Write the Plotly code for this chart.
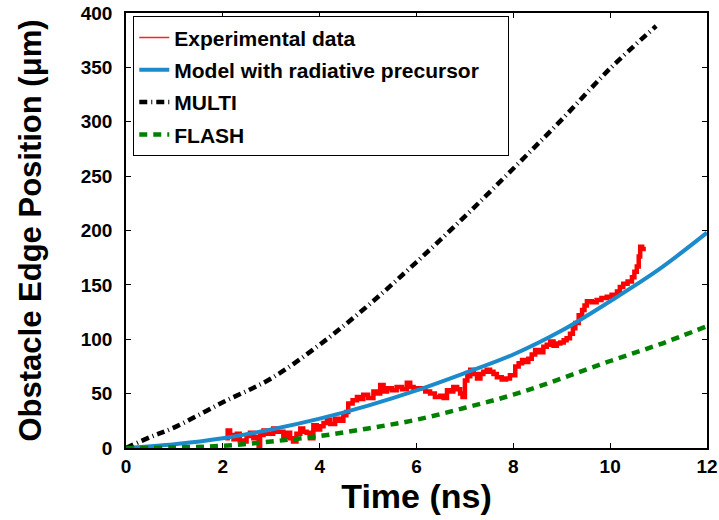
import plotly.graph_objects as go

# ---- data ----
exp_t = [2.05, 2.10, 2.15, 2.22, 2.29, 2.35, 2.42, 2.49, 2.56, 2.63, 2.70, 2.74, 2.77, 2.84, 2.92,
         3.04, 3.12, 3.25, 3.32, 3.39, 3.45, 3.52, 3.60, 3.66, 3.73, 3.80, 3.87, 3.94, 4.01, 4.08,
         4.15, 4.22, 4.32, 4.40, 4.49, 4.55, 4.59, 4.68, 4.77, 4.84, 4.90, 5.00, 5.11, 5.18, 5.25,
         5.32, 5.39, 5.49, 5.59, 5.70, 5.80, 5.87, 5.94, 6.07, 6.18, 6.28, 6.38, 6.49, 6.56, 6.63,
         6.70, 6.76, 6.84, 6.90, 6.95, 7.00, 7.05, 7.11, 7.18, 7.25, 7.32, 7.38, 7.45, 7.52, 7.59,
         7.66, 7.76, 7.85, 7.93, 8.04, 8.11, 8.18, 8.25, 8.31, 8.38, 8.45, 8.53, 8.62, 8.69, 8.76,
         8.83, 8.90, 8.97, 9.04, 9.10, 9.17, 9.23, 9.28, 9.35, 9.42, 9.47, 9.52, 9.62, 9.72, 9.82,
         9.93, 10.03, 10.14, 10.20, 10.27, 10.36, 10.45, 10.50, 10.55, 10.59, 10.62, 10.66, 10.69]
exp_y = [9, 16, 12, 8, 13, 7, 6, 11, 14, 9, 10, 1, 12, 16, 13,
         18, 15, 10, 14, 9, 6, 13, 18, 15, 14, 9, 21, 17, 20, 23,
         26, 22, 27, 25, 30, 33, 41, 44, 47, 45, 49, 46, 52, 50, 58,
         52, 55, 53, 56, 54, 60, 56, 55, 55, 52, 50, 47, 48, 46, 53,
         52, 56, 54, 50, 47, 62, 66, 72, 68, 64, 68, 70, 72, 70, 68,
         65, 63, 64, 67, 75, 78, 81, 79, 82, 86, 90, 88, 93, 95, 98,
         94, 96, 97, 99, 101, 105, 110, 115, 122, 127, 131, 135, 134, 136, 138,
         139, 141, 144, 148, 151, 153, 157, 162, 167, 176, 185, 183, 185]

model_t = [0, 1, 2, 3, 4, 5, 6, 7, 8, 9, 10, 11, 12]
model_y = [0, 3.5, 9, 17, 27, 39, 53, 69, 86, 108, 135, 164, 198]

multi_t = [0, 0.5, 1, 2, 3, 4, 5, 6, 7, 8, 9, 10, 10.95]
multi_y = [0, 10, 19, 42, 64, 95, 131, 171, 213, 257, 302, 349, 388]

flash_t = [0, 1, 2, 3, 4, 5, 6, 7, 8, 9, 10, 11, 12]
flash_y = [0, 0.5, 2, 6, 11, 18, 26, 37, 49, 64, 80, 95, 112]

x_ticks = [0, 2, 4, 6, 8, 10, 12]
y_ticks = [0, 50, 100, 150, 200, 250, 300, 350, 400]

FONT = "Liberation Sans, Arial, Helvetica, sans-serif"
NB = "\u00a0"

fig = go.Figure()
# thin legend-carrying trace (hidden under the thick one)
fig.add_trace(go.Scatter(x=exp_t, y=exp_y, mode="lines", name="<b>Experimental data</b>",
                         line=dict(color="#ff2020", width=1.5, shape="hv"), legendgroup="a"))
fig.add_trace(go.Scatter(x=exp_t, y=exp_y, mode="lines", line=dict(color="#ff0000", width=4.5, shape="hv"),
                         showlegend=False, hoverinfo="skip", legendgroup="a"))
fig.add_trace(go.Scatter(x=model_t, y=model_y, mode="lines", name="<b>Model with radiative precursor</b>" + NB * 4,
                         line=dict(color="#1b8bcc", width=4, shape="spline"), legendgroup="b"))
fig.add_trace(go.Scatter(x=multi_t, y=multi_y, mode="lines", name="<b>MULTI</b>",
                         line=dict(color="black", width=4.5, dash="8px,4px,1px,4px", shape="spline"), legendgroup="c"))
fig.add_trace(go.Scatter(x=flash_t, y=flash_y, mode="lines", name="<b>FLASH</b>",
                         line=dict(color="#008000", width=4.5, dash="8px,6px", shape="spline"), legendgroup="d"))

axis_common = dict(showline=True, linecolor="black", linewidth=1.5, mirror="ticks",
                   ticks="inside", ticklen=5, tickwidth=1, tickcolor="black",
                   showgrid=False, zeroline=False, automargin=False,
                   tickfont=dict(family=FONT, size=19, color="black"))

fig.update_layout(
    width=719, height=520,
    margin=dict(l=126, r=12, t=13, b=72, autoexpand=False),
    paper_bgcolor="white", plot_bgcolor="white",
    font=dict(family=FONT, color="black"),
    xaxis=dict(range=[0, 12], tickvals=x_ticks, ticktext=["<b>%d</b>" % v for v in x_ticks],
               title=dict(text="<b>Time (ns)</b>", font=dict(family=FONT, size=34), standoff=8),
               **axis_common),
    yaxis=dict(range=[0, 400], tickvals=y_ticks, ticktext=["<b>%d</b>" % v for v in y_ticks],
               title=dict(text="<b>Obstacle Edge Position (μm)</b>", font=dict(family=FONT, size=31), standoff=30),
               ticklabelstandoff=8, **axis_common),
    legend=dict(x=0.012, y=0.993, xanchor="left", yanchor="top",
                bgcolor="white", bordercolor="black", borderwidth=1.3,
                font=dict(family=FONT, size=21, color="black"),
                tracegroupgap=2, itemwidth=30, traceorder="grouped"),
    showlegend=True,
)

fig.write_html("out.html", config={"displayModeBar": False},
               post_script="document.body.style.margin='0';document.body.style.padding='0';")
